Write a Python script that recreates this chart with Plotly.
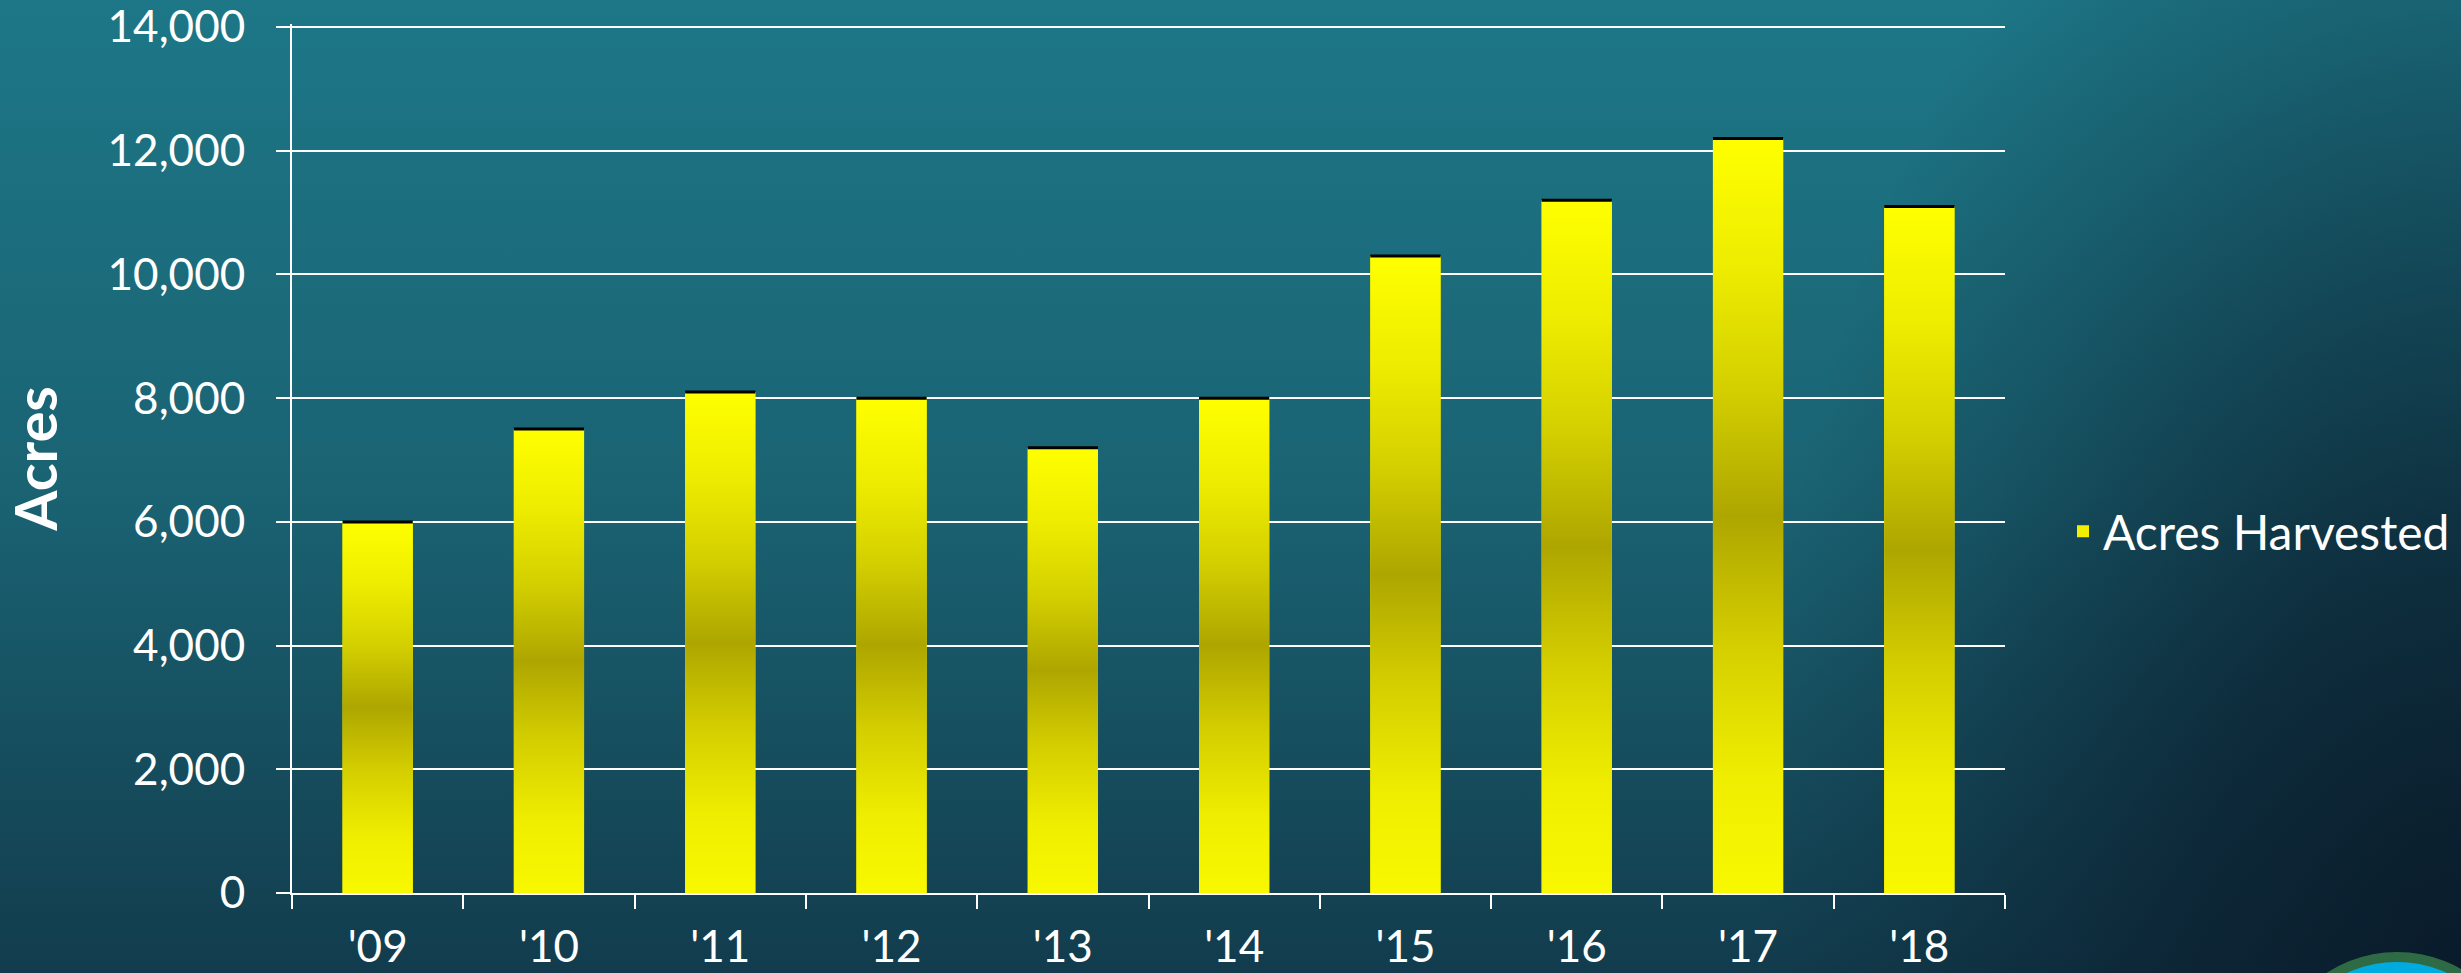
import base64
import plotly.graph_objects as go

# ---------------- data ----------------
years = ["'09", "'10", "'11", "'12", "'13", "'14", "'15", "'16", "'17", "'18"]
acres = [6000, 7500, 8100, 8000, 7200, 8000, 10300, 11200, 12200, 11100]
y_ticks = [0, 2000, 4000, 6000, 8000, 10000, 12000, 14000]
series_name = "Acres Harvested"
y_title = "Acres"

# ---------------- geometry / style ----------------
W, H = 2461, 973
ML, MR, MT, MB = 292, 456, 24, 80
PW, PH = W - ML - MR, H - MT - MB
Y_MAX = 14050
BAR_GAP = 0.59
BAR_W = 1 - BAR_GAP
FONT = "Lato"
BAR_SCALE = [
    [0.0, "#f8f800"], [0.15, "#f0ee00"], [0.33, "#d4ce00"], [0.5, "#aea600"],
    [0.67, "#d4d000"], [0.83, "#eeec00"], [1.0, "#ffff00"],
]

svg = f'''<svg xmlns="http://www.w3.org/2000/svg" width="{W}" height="{H}" viewBox="0 0 {W} {H}" preserveAspectRatio="none">
<defs>
<linearGradient id="base" x1="0" y1="0" x2="0" y2="1">
<stop offset="0" stop-color="#1d7787"/>
<stop offset="0.5" stop-color="#1a6373"/>
<stop offset="1" stop-color="#123c4d"/>
</linearGradient>
<radialGradient id="vig" gradientUnits="userSpaceOnUse" cx="{W}" cy="{H}" r="1300" gradientTransform="translate({W} {H}) scale(0.55 1) translate(-{W} -{H})">
<stop offset="0" stop-color="#081524" stop-opacity="0.85"/>
<stop offset="0.35" stop-color="#081524" stop-opacity="0.62"/>
<stop offset="0.75" stop-color="#081524" stop-opacity="0.2"/>
<stop offset="1" stop-color="#081524" stop-opacity="0"/>
</radialGradient>
</defs>
<rect width="{W}" height="{H}" fill="url(#base)"/>
<rect width="{W}" height="{H}" fill="url(#vig)"/>
<circle cx="2397" cy="1081" r="124" fill="#00acdf" stroke="#2e6b45" stroke-width="10"/>
</svg>'''
bg_uri = "data:image/svg+xml;base64," + base64.b64encode(svg.encode()).decode()

fig = go.Figure()

# real bars (category axis) - also provides the legend entry
fig.add_trace(go.Bar(
    x=years, y=acres, name=series_name,
    marker=dict(color="#f2f000", line=dict(width=0)),
    hoverinfo="skip",
))

# gradient fill on top of each bar, derived from the same data
for i, v in enumerate(acres):
    x0, x1 = i - BAR_W / 2, i + BAR_W / 2
    fig.add_trace(go.Scatter(
        x=[x0, x0, x1, x1, x0], y=[0, v, v, 0, 0], xaxis="x2",
        mode="lines", fill="toself",
        line=dict(width=0, color="rgba(0,0,0,0)"),
        fillgradient=dict(type="vertical", colorscale=BAR_SCALE, start=0, stop=v),
        showlegend=False, hoverinfo="skip",
    ))

# dark cap on the top of each bar
cap_x, cap_y = [], []
for i, v in enumerate(acres):
    cap_x += [i - BAR_W / 2, i + BAR_W / 2, None]
    cap_y += [v, v, None]
fig.add_trace(go.Scatter(
    x=cap_x, y=cap_y, xaxis="x2", mode="lines",
    line=dict(color="black", width=3), showlegend=False, hoverinfo="skip",
))

tickfont = dict(family=FONT, size=44, color="white")

fig.update_layout(
    width=W, height=H, autosize=False,
    margin=dict(l=ML, r=MR, t=MT, b=MB, pad=0, autoexpand=False),
    paper_bgcolor="#175466", plot_bgcolor="rgba(0,0,0,0)",
    font=dict(family=FONT, color="white"),
    bargap=BAR_GAP,
    images=[dict(
        source=bg_uri, xref="paper", yref="paper",
        x=-ML / PW, y=1 + MT / PH, sizex=W / PW, sizey=H / PH,
        xanchor="left", yanchor="top", sizing="stretch", layer="below",
    )],
    xaxis=dict(
        type="category", showgrid=False, zeroline=False, automargin=False,
        showline=True, linecolor="white", linewidth=2,
        ticks="outside", tickson="boundaries", ticklen=14, tickwidth=2, tickcolor="white",
        tickfont=tickfont, ticklabelstandoff=14,
    ),
    xaxis2=dict(overlaying="x", range=[-0.5, len(years) - 0.5], visible=False, fixedrange=True),
    yaxis=dict(
        range=[0, Y_MAX], tickvals=y_ticks, tickformat=",", automargin=False,
        showgrid=True, gridcolor="white", gridwidth=2, zeroline=False,
        showline=True, linecolor="white", linewidth=2,
        ticks="outside", ticklen=14, tickwidth=2, tickcolor="white",
        tickfont=tickfont, ticklabelstandoff=22, ticklabeloverflow="allow",
        title=dict(text=y_title, font=dict(family=FONT, size=58, color="white", weight="bold"), standoff=40),
    ),
    legend=dict(
        x=(2063 - ML) / PW, xanchor="left", y=0.416, yanchor="middle",
        font=dict(family=FONT, size=48, color="white"),
        bgcolor="rgba(0,0,0,0)",
    ),
    hovermode=False,
)

fig.write_html(
    "out.html",
    config={"displayModeBar": False},
    post_script="document.body.style.margin='0';document.body.style.overflow='hidden';",
)
